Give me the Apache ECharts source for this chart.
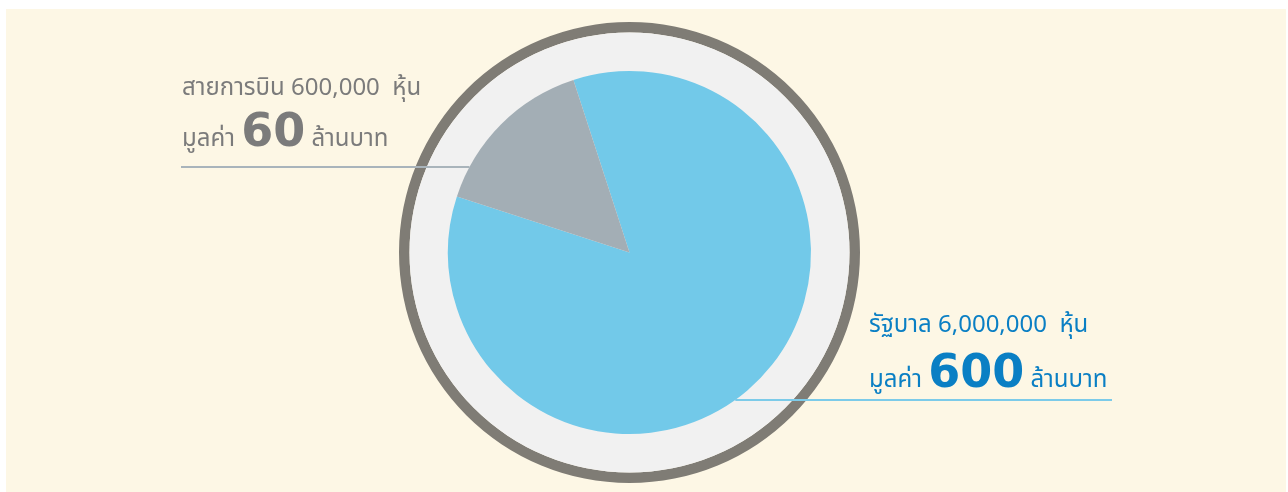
<!DOCTYPE html>
<html>
<head>
<meta charset="utf-8">
<script src="https://cdn.jsdelivr.net/npm/echarts@6/dist/echarts.min.js"></script>
<style>
    html, body { margin: 0; padding: 0; background: #ffffff; }
    #wrap { position: relative; width: 1288px; height: 492px; }
    #paper { position: absolute; left: 6px; top: 9px; width: 1280px; height: 483px; background: #fdf7e5; }
    #chart { position: absolute; left: 0; top: 0; width: 1288px; height: 492px; }
</style>
</head>
<body>
<div id="wrap"><div id="paper"></div><div id="chart"></div></div>
<script>
// ข้อมูลสัดส่วนหุ้น
var holders = ['รัฐบาล', 'สายการบิน'];
var shareCounts = ['6,000,000', '600,000'];
var valueMillions = ['600', '60'];
var sliceShares = [85, 15];          // ขนาดชิ้นพายตามที่เห็นในภาพ
var sliceColors = ['#72c9e9', '#a3aeb5'];
var textColors = ['#0a7fc4', '#7b7b7b'];
var lineColors = ['#7ccbe9', '#a9b4bb'];

var FONT = '"Noto Sans Thai", "Noto Sans", sans-serif';
var NUM_FONT = '"DejaVu Sans", sans-serif';
var CX = 629.5, CY = 252.5, R = 181.5;

// จุดวางป้าย / เส้นชี้ (ซ้าย-ขวา)
var labelBox = [
    { x: 869, y: 310, lineH: 54, lineY: 400, lineEnd: 1112, side: 1 },
    { x: 182, y: 73, lineH: 50, lineY: 167, lineEnd: 181, side: -1 }
];

var myChart = echarts.init(document.getElementById('chart'));

var pieData = holders.map(function (name, i) {
    var lh = labelBox[i].lineH;
    return {
        name: name,
        value: sliceShares[i],
        itemStyle: { color: sliceColors[i] },
        label: {
            formatter: '{t|' + name + ' ' + shareCounts[i] + '  หุ้น}\n{s|มูลค่า }{b|' + valueMillions[i] + '}{s| ล้านบาท}',
            rich: {
                t: { fontFamily: FONT, fontSize: 24, color: textColors[i], lineHeight: 34 },
                s: { fontFamily: FONT, fontSize: 24, color: textColors[i], lineHeight: lh, verticalAlign: 'bottom', padding: [0, 0, 4, 0] },
                b: { fontFamily: NUM_FONT, fontSize: 46, fontWeight: 'bold', color: textColors[i], lineHeight: lh, verticalAlign: 'bottom' }
            }
        },
        labelLine: { lineStyle: { color: lineColors[i], width: 2 } }
    };
});

myChart.setOption({
    animation: false,
    series: [
        {
            // วงแหวนขอบนอก
            type: 'pie', silent: true, z: 1, center: [CX, CY], radius: [220, 230.5],
            label: { show: false }, labelLine: { show: false },
            data: [{ value: 1, itemStyle: { color: '#7f7c75' } }]
        },
        {
            // พื้นวงกลมสีเทาอ่อน
            type: 'pie', silent: true, z: 1, center: [CX, CY], radius: [0, 220],
            label: { show: false }, labelLine: { show: false },
            data: [{ value: 1, itemStyle: { color: '#f1f1f1' } }]
        },
        {
            type: 'pie', silent: true, z: 5, center: [CX, CY], radius: R,
            startAngle: 108, clockwise: true, avoidLabelOverlap: false,
            label: { show: true, position: 'outside' },
            labelLine: { show: true, length: 10, length2: 10 },
            labelLayout: function (p) {
                var b = labelBox[p.dataIndex];
                var dy = b.lineY - CY;
                var ax = CX + b.side * Math.sqrt(R * R - dy * dy);
                return {
                    x: b.x, y: b.y, align: 'left', verticalAlign: 'top',
                    labelLinePoints: [[ax, b.lineY], [ax, b.lineY], [b.lineEnd, b.lineY]]
                };
            },
            data: pieData
        }
    ]
});
</script>
</body>
</html>
